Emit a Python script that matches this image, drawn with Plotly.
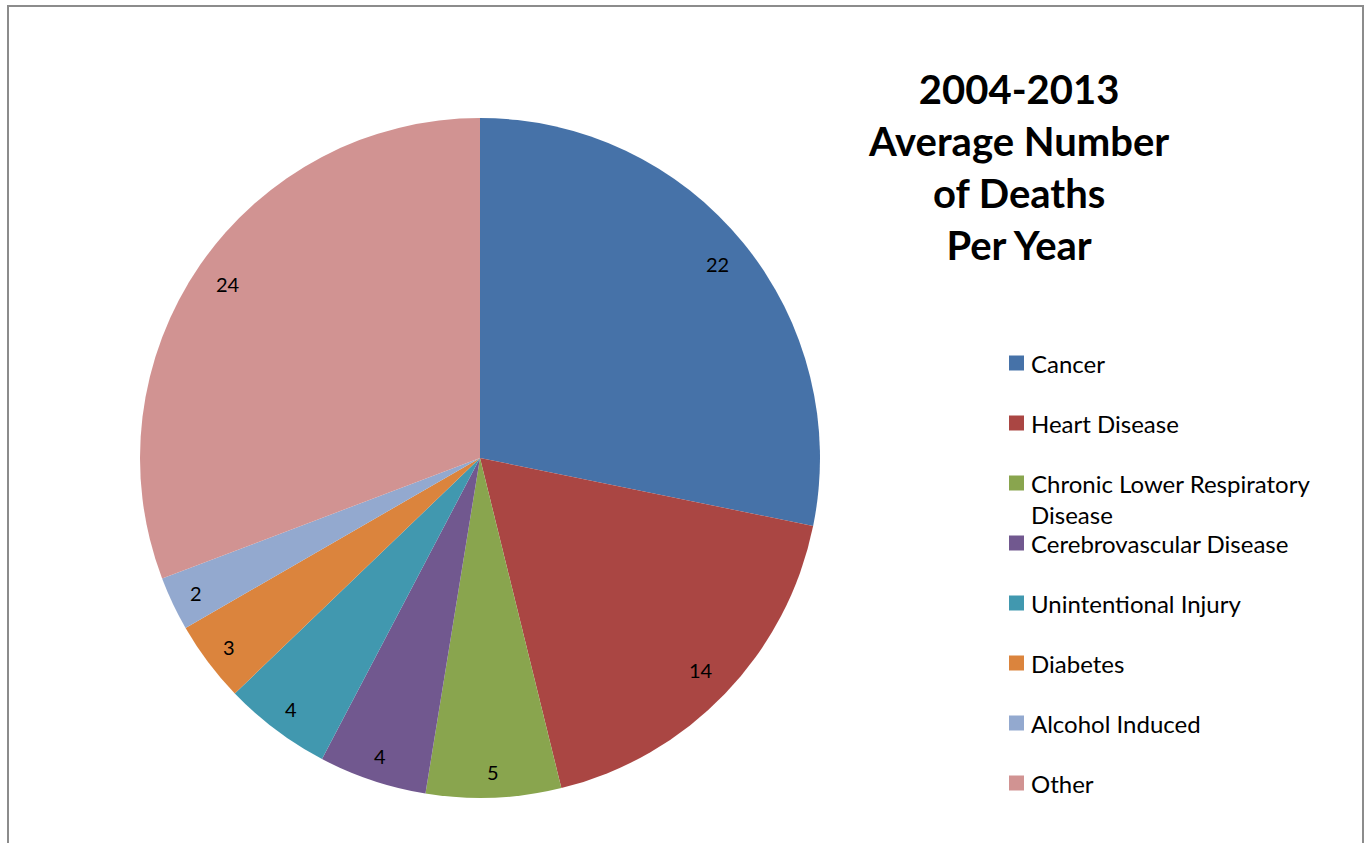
import math
import plotly.graph_objects as go

categories = ["Cancer", "Heart Disease", "Chronic Lower Respiratory Disease",
              "Cerebrovascular Disease", "Unintentional Injury", "Diabetes",
              "Alcohol Induced", "Other"]
values = [22, 14, 5, 4, 4, 3, 2, 24]
colors = ["#4672A8", "#AA4643", "#89A54E", "#71588F", "#4198AF", "#DB843D",
          "#93A9CF", "#D19392"]
legend_labels = ["Cancer", "Heart Disease", "Chronic Lower Respiratory<br>Disease",
                 "Cerebrovascular Disease", "Unintentional Injury", "Diabetes",
                 "Alcohol Induced", "Other"]
title_text = "2004-2013<br>Average Number<br>of Deaths<br>Per Year"

W, H = 1366, 843
FONT = "Lato"
CX, CY, R = 480, 458, 340  # pie centre / radius in pixels

fig = go.Figure()
fig.add_trace(go.Pie(
    labels=categories, values=values, sort=False, direction="clockwise",
    rotation=0, marker=dict(colors=colors, line=dict(width=0)),
    textinfo="none",
    domain=dict(x=[(CX - R) / W, (CX + R) / W], y=[1 - (CY + R) / H, 1 - (CY - R) / H]),
    showlegend=False, hoverinfo="label+value",
))

# data labels placed Excel-style near the outer edge of each slice
total = sum(values)
cum = 0
for v in values:
    mid = (cum + v / 2) / total * 2 * math.pi
    cum += v
    rr = (0.90 if v > 10 else 0.925) * R
    fig.add_annotation(x=(CX + rr * math.sin(mid)) / W,
                       y=1 - (CY - rr * math.cos(mid)) / H,
                       xref="paper", yref="paper", text=str(v), showarrow=False,
                       xanchor="center", yanchor="middle",
                       font=dict(family=FONT, size=20, color="black"))

# frame
fig.add_shape(type="rect", xref="paper", yref="paper",
              x0=8 / W, x1=1363 / W, y0=-0.02, y1=1 - 6 / H,
              line=dict(color="#8c8c8c", width=2), fillcolor="rgba(0,0,0,0)")

# title
fig.add_annotation(x=1018 / W, y=1 - 167 / H, xref="paper", yref="paper",
                   text="<b>" + title_text + "</b>", showarrow=False,
                   font=dict(family=FONT, size=40, color="black"),
                   align="center", xanchor="center", yanchor="middle")

# legend (Excel-style spacing)
y0, step = 363, 60
for i, (lab, col) in enumerate(zip(legend_labels, colors)):
    yc = y0 + i * step
    fig.add_shape(type="rect", xref="paper", yref="paper",
                  x0=1009 / W, x1=1024 / W, y0=1 - (yc + 7.5) / H, y1=1 - (yc - 7.5) / H,
                  line=dict(width=0), fillcolor=col)
    fig.add_annotation(x=1029 / W, y=1 - (yc - 16) / H, xref="paper", yref="paper",
                       text=lab, showarrow=False, align="left",
                       xanchor="left", yanchor="top",
                       font=dict(family=FONT, size=24, color="black"))

fig.update_layout(width=W, height=H, margin=dict(l=0, r=0, t=0, b=0),
                  paper_bgcolor="white", plot_bgcolor="white")
fig.write_html("out.html", config={"displayModeBar": False},
               post_script="document.body.style.margin='0px';")
